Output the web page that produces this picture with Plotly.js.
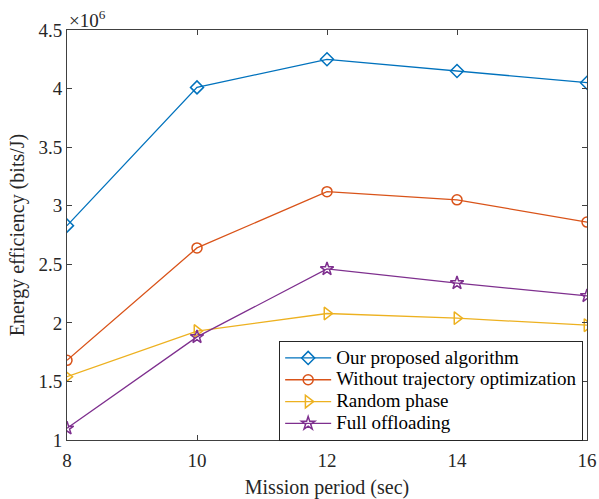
<!DOCTYPE html>
<html>
<head>
<meta charset="utf-8">
<script src="https://cdn.plot.ly/plotly-3.0.1.min.js"></script>
<style>html,body{margin:0;padding:0;background:#fff;}#chart{width:599px;height:499px;}</style>
</head>
<body>
<div id="chart"></div>
<script>
const period = [8, 10, 12, 14, 16];
const proposed = [2.83, 4.01, 4.25, 4.15, 4.05];
const noTrajectory = [1.68, 2.64, 3.12, 3.05, 2.86];
const randomPhase = [1.54, 1.93, 2.08, 2.04, 1.98];
const fullOffloading = [1.10, 1.88, 2.46, 2.34, 2.23];
const seriesNames = ['Our proposed algorithm', 'Without trajectory optimization', 'Random phase', 'Full offloading'];
const yTicks = [1, 1.5, 2, 2.5, 3, 3.5, 4, 4.5];
const xTicks = [8, 10, 12, 14, 16];

const colors = ['#0072BD', '#D95319', '#EDB120', '#7E2F8E'];
const symbols = ['diamond-open', 'circle-open', 'triangle-right-open', 'star-open'];
const sizes = [10, 10, 11, 10];
const ys = [proposed, noTrajectory, randomPhase, fullOffloading];

const traces = ys.map((y, i) => ({
  x: period, y: y, name: '<span style="font-size:19px">' + seriesNames[i] + '</span>',
  type: 'scatter', mode: 'lines+markers',
  line: {color: colors[i], width: 1.3},
  marker: {symbol: symbols[i], size: sizes[i], color: colors[i], line: {color: colors[i], width: 1.5}}
}));

const fam = '"Liberation Serif", "Times New Roman", serif';
const font = {family: fam, color: '#262626'};
const axisCommon = {
  showgrid: false, zeroline: false, showline: true, linecolor: '#404040', linewidth: 1,
  mirror: 'ticks', ticks: 'inside', ticklen: 5, tickcolor: '#404040',
  tickfont: {family: fam, size: 19, color: '#262626'}
};

const layout = {
  width: 599, height: 499,
  margin: {l: 67, r: 12, t: 30, b: 59},
  paper_bgcolor: '#fff', plot_bgcolor: '#fff',
  font: font,
  showlegend: true,
  xaxis: Object.assign({}, axisCommon, {
    range: [8, 16], tickvals: xTicks, ticktext: xTicks.map(String), ticklabelstandoff: 3,
    title: {text: 'Mission period (sec)', font: {family: fam, size: 20, color: '#262626'}, standoff: 10}
  }),
  yaxis: Object.assign({}, axisCommon, {
    range: [1, 4.5], tickvals: yTicks, ticktext: yTicks.map(String),
    title: {text: 'Energy efficiency (bits/J)', font: {family: fam, size: 20, color: '#262626'}, standoff: 8}
  }),
  legend: {
    x: 0.408, y: 0.2415, xanchor: 'left', yanchor: 'top',
    bgcolor: '#fff', bordercolor: '#262626', borderwidth: 1,
    font: {family: fam, size: 14.5, color: '#000'},
    tracegroupgap: 0, itemwidth: 46
  },
  annotations: [{
    xref: 'paper', yref: 'paper', x: 0, y: 1, xanchor: 'left', yanchor: 'bottom',
    text: '×10<sup>6</sup>', showarrow: false, yshift: -3,
    font: {family: fam, size: 19, color: '#262626'}
  }]
};

Plotly.newPlot('chart', traces, layout, {displayModeBar: false, staticPlot: true});
</script>
</body>
</html>
